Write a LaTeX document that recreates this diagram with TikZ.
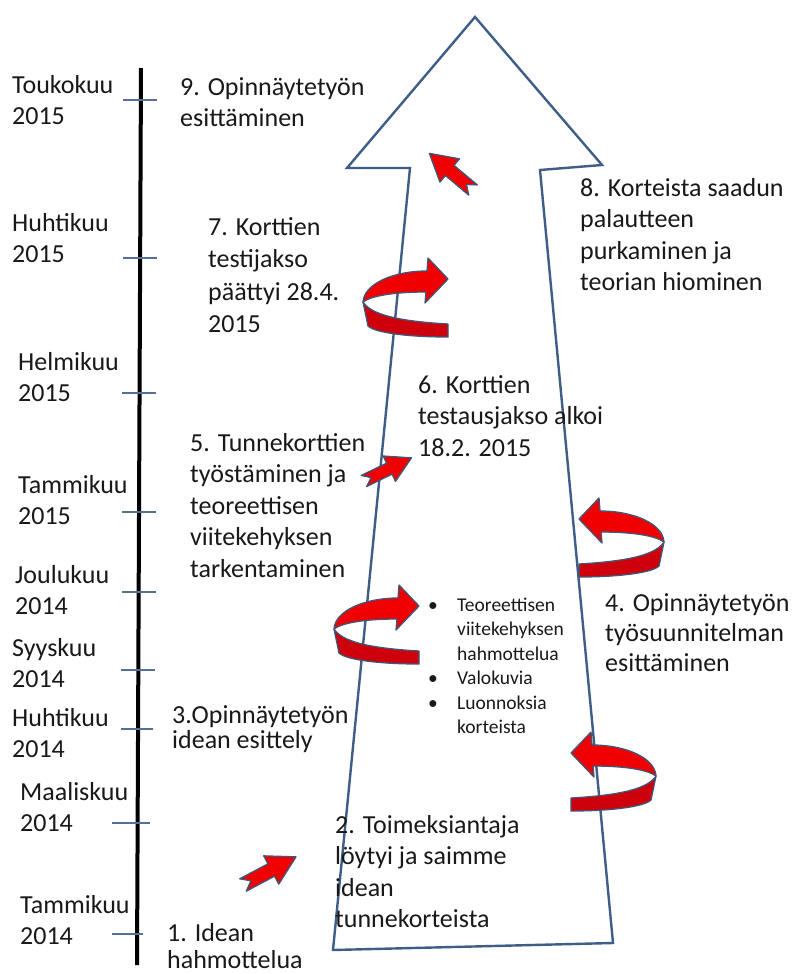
\documentclass[tikz,border=0pt]{standalone}
\usepackage{fontspec}
\setmainfont{Carlito}
\definecolor{shaftline}{RGB}{62,94,135}
\definecolor{tickline}{RGB}{84,112,148}
\definecolor{ribbonred}{RGB}{240,0,0}
\definecolor{ribbonback}{RGB}{205,0,12}
\definecolor{ribbonrim}{RGB}{66,86,118}
\newcommand{\notebullet}{\makebox[29pt][l]{\textbullet}}
\newcommand{\noteindent}{\hspace*{29pt}}
\tikzset{
    % anchored at the baseline of the last line
    lbl/.style={anchor=base west, align=left, inner sep=0pt, text=black!90,
        font=\fontsize{26}{31.5}\selectfont},
    tickmark/.style={tickline, line width=1.2pt},
    redfill/.style={fill=ribbonred, draw=ribbonrim, line width=1.3pt, line join=round},
    twistarrow/.pic={
        % lower ribbon
        \filldraw[redfill, fill=ribbonback] (-42,2) .. controls (-34,14) and (-10,21) .. (43,24)
            -- (43,37) .. controls (5,37) and (-30,33) .. (-37,26) -- cycle;
        % upper ribbon with head
        \filldraw[redfill] (21,-8) .. controls (-12,-8) and (-34,-4) .. (-42,2)
            .. controls (-41,-16) and (-12,-29) .. (22,-29)
            -- (23,-42) -- (43,-21) -- (20,3) -- cycle;
    },
    notcharrow/.pic={
        \filldraw[redfill] (0,-7) -- (32,-7) -- (32,-16) -- (60,0) -- (32,16) -- (32,7) -- (0,7) -- (9,0) -- cycle;
    }
}
\begin{document}
\begin{tikzpicture}[x=1pt, y=-1pt]
        \useasboundingbox (0,0) rectangle (800,974);
        \fill[white] (0,0) rectangle (800,974);

        % big upward arrow
        \draw[shaftline, line width=2.4pt, line join=miter] (333,950) -- (410,168) -- (347,168) -- (475,17)
            -- (602,165) -- (540,170) -- (613,943) -- cycle;

        % time line
        \draw[line width=4pt] (141,68) -- (137,965);
        \draw[tickmark] (123,100) -- (157,100);
        \draw[tickmark] (123,258) -- (157,258);
        \draw[tickmark] (122,393) -- (156,393);
        \draw[tickmark] (122,512) -- (156,512);
        \draw[tickmark] (122,592) -- (156,592);
        \draw[tickmark] (121,670) -- (155,670);
        \draw[tickmark] (121,729) -- (153,729);
        \draw[tickmark] (112,823) -- (150,823);
        \draw[tickmark] (112,934) -- (143,934);

        \node[lbl] (toukokuu) at (12,124.5) {Toukokuu\\2015};
        \node[lbl] (huhtikuu15) at (12,262.5) {Huhtikuu\\2015};
        \node[lbl] (helmikuu) at (18,401.5) {Helmikuu\\2015};
        \node[lbl] (tammikuu15) at (18,524.5) {Tammikuu\\2015};
        \node[lbl] (joulukuu) at (15,614.5) {Joulukuu\\2014};
        \node[lbl] (syyskuu) at (12,687.5) {Syyskuu\\2014};
        \node[lbl] (huhtikuu14) at (12,757.5) {Huhtikuu\\2014};
        \node[lbl] (maaliskuu) at (20,831.5) {Maaliskuu\\2014};
        \node[lbl] (tammikuu14) at (20,944.5) {Tammikuu\\2014};

        \node[lbl] (phase9) at (180,126.5) {9. Opinnäytetyön\\esittäminen};
        \node[lbl] (phase8) at (580,290.5) {8. Korteista saadun\\palautteen\\purkaminen ja\\teorian hiominen};
        \node[lbl, font=\fontsize{26}{32.5}\selectfont] (phase7) at (208,332.5) {7. Korttien\\testijakso\\päättyi 28.4.\\2015};
        \node[lbl] (phase6) at (418,456) {6. Korttien\\testausjakso alkoi\\18.2. 2015};
        \node[lbl] (phase5) at (190,577) {5. Tunnekorttien\\työstäminen ja\\teoreettisen\\viitekehyksen\\tarkentaminen};
        \node[lbl, font=\fontsize{26}{30}\selectfont] (phase4) at (605,671) {4. Opinnäytetyön\\työsuunnitelman\\esittäminen};
        \node[lbl, font=\fontsize{26}{25}\selectfont] (phase3) at (172,748) {3.Opinnäytetyön\\idean esittely};
        \node[lbl] (phase2) at (335,927.5) {2. Toimeksiantaja\\löytyi ja saimme\\idean\\tunnekorteista};
        \node[lbl, font=\fontsize{26}{27}\selectfont] (phase1) at (167,968) {1. Idean\\hahmottelua};
        \node[lbl, font=\fontsize{19.5}{24.5}\selectfont] (notes) at (428,733.5)
            {\notebullet Teoreettisen\\\noteindent viitekehyksen\\\noteindent hahmottelua\\\notebullet Valokuvia\\\notebullet Luonnoksia\\\noteindent korteista};

        % red arrows on top
        \pic at (405,300) {twistarrow};
        \pic at (376,627) {twistarrow};
        \pic[xscale=-1] at (622,540) {twistarrow};
        \pic[xscale=-1] at (614,774) {twistarrow};
        \pic[rotate=28] at (243,885) {notcharrow};
        \pic[rotate=26, scale=0.88] at (364,481) {notcharrow};
        \pic[rotate=140, scale=0.95] at (473,190) {notcharrow};
\end{tikzpicture}
\end{document}
